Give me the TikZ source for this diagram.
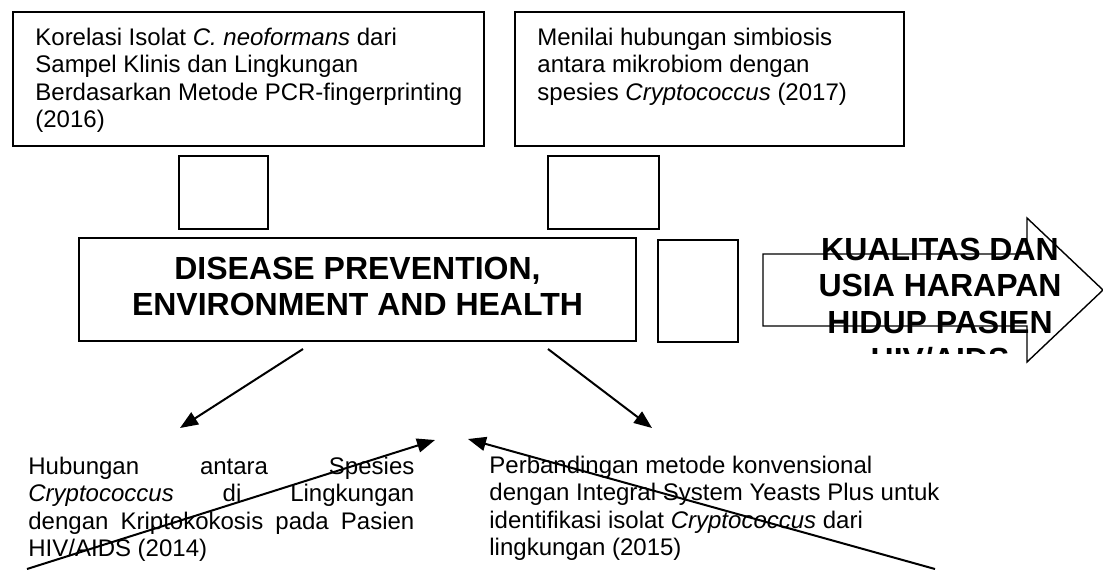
\documentclass[tikz,border=0pt]{standalone}
\usepackage{fontspec}
\setmainfont{Liberation Sans}
\usetikzlibrary{arrows.meta,fit}
\begin{document}
\begin{tikzpicture}[x=0.5pt,y=-0.5pt,
  boxline/.style={draw=black, line width=0.7pt, inner sep=0pt},
  txt/.style={anchor=base west, inner sep=0pt, font=\fontsize{12}{13.8}\selectfont},
  ttl/.style={anchor=base, inner sep=0pt, font=\fontsize{16}{18.4}\selectfont\bfseries},
  conn/.style={line width=1pt, -{Triangle[length=9pt,width=7pt]}},
  blockarrow/.style={draw=black, line width=0.7pt, line join=miter}]
\fill[white] (0,0) rectangle (1103,569);
\useasboundingbox (0,0) rectangle (1103,569);

% top boxes
\node[boxline, fit={(13,12) (484,146)}] (b1) {};
\node[txt] (t1) at (35,45) {\begin{tabular}[t]{@{}l@{}}Korelasi Isolat \textit{C. neoformans} dari\\Sampel Klinis dan Lingkungan\\Berdasarkan Metode PCR-fingerprinting\\(2016)\end{tabular}};

\node[boxline, fit={(515,12) (904,146)}] (b2) {};
\node[txt] (t2) at (537,45) {\begin{tabular}[t]{@{}l@{}}Menilai hubungan simbiosis\\antara mikrobiom dengan\\spesies \textit{Cryptococcus} (2017)\end{tabular}};

% small empty boxes
\node[boxline, fit={(179,156) (268,229)}] (s1) {};
\node[boxline, fit={(548,156) (659,229)}] (s2) {};
\node[boxline, fit={(658,240) (738,342)}] (s3) {};

% main box
\node[boxline, fit={(79,238) (636,341)}] (m) {};
\node[ttl] (t3) at (357.5,279) {\begin{tabular}[t]{@{}c@{}}DISEASE PREVENTION,\\ENVIRONMENT AND HEALTH\end{tabular}};

% block arrow
\draw[blockarrow] (763,254) -- (1027,254) -- (1027,218) -- (1103,290) -- (1027,362) -- (1027,326) -- (763,326) -- cycle;
\begin{scope}
\clip (763,200) rectangle (1103,353);
\node[ttl] (t4) at (940,260) {\begin{tabular}[t]{@{}c@{}}KUALITAS DAN\\USIA HARAPAN\\HIDUP PASIEN\\HIV/AIDS\end{tabular}};
\end{scope}

% bottom texts
\node[txt] (t5) at (28,474) {\begin{tabular}[t]{@{}l@{}}\makebox[193pt][s]{Hubungan antara Spesies}\\\makebox[193pt][s]{\textit{Cryptococcus} di Lingkungan}\\\makebox[193pt][s]{dengan Kriptokokosis pada Pasien}\\HIV/AIDS (2014)\end{tabular}};
\node[txt] (t6) at (489,473) {\begin{tabular}[t]{@{}l@{}}Perbandingan metode konvensional\\dengan Integral System Yeasts Plus untuk\\identifikasi isolat \textit{Cryptococcus} dari\\lingkungan (2015)\end{tabular}};

% connectors
\coordinate (a1s) at (303,349);
\coordinate (a1e) at (180,428);
\coordinate (a2s) at (548,349);
\coordinate (a2e) at (652,428);
\coordinate (a3s) at (27,569);
\coordinate (a3e) at (435,440);
\coordinate (a4s) at (935,569);
\coordinate (a4e) at (468,439);
\draw[conn] (a1s) -- (a1e);
\draw[conn] (a2s) -- (a2e);
\draw[conn] (a3s) -- (a3e);
\draw[conn] (a4s) -- (a4e);
\end{tikzpicture}
\end{document}
